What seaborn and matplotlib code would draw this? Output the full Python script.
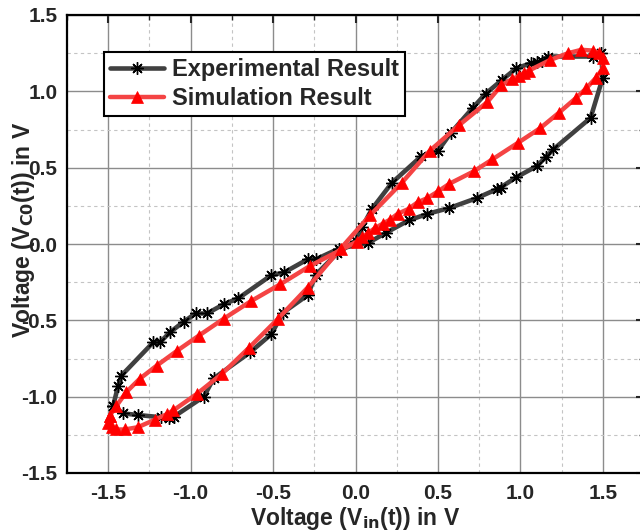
import matplotlib
matplotlib.use("Agg")
import matplotlib.pyplot as plt
import seaborn as sns
import numpy as np
import pandas as pd
from matplotlib.ticker import MultipleLocator

# Experimental result (closed loop, ordered)
exp_x = [-1.47, -1.41, -1.32, -1.18, -1.13, -1.10, -0.92, -0.86, -0.64, -0.51, -0.44,
         -0.29, -0.24, -0.11, 0.00, 0.04, 0.10, 0.22, 0.40, 0.50, 0.58, 0.71, 0.79, 0.89,
         0.975, 1.065, 1.10, 1.13, 1.167, 1.44, 1.49, 1.50, 1.426, 1.20, 1.155, 1.10,
         0.975, 0.88, 0.86, 0.734, 0.57, 0.435, 0.322, 0.182, 0.074, -0.10, -0.24, -0.29,
         -0.432, -0.511, -0.71, -0.80, -0.90, -0.97, -1.043, -1.124, -1.185, -1.226,
         -1.42, -1.44, -1.47]
exp_y = [-1.06, -1.11, -1.12, -1.135, -1.14, -1.13, -1.00, -0.88, -0.71, -0.59, -0.45,
         -0.335, -0.20, -0.06, 0.02, 0.11, 0.23, 0.40, 0.576, 0.61, 0.73, 0.89, 0.985, 1.076,
         1.15, 1.185, 1.19, 1.20, 1.228, 1.228, 1.25, 1.09, 0.826, 0.62, 0.57, 0.51,
         0.437, 0.37, 0.36, 0.30, 0.236, 0.197, 0.154, 0.072, 0.005, -0.03, -0.10, -0.10,
         -0.186, -0.205, -0.355, -0.395, -0.455, -0.455, -0.51, -0.577, -0.643, -0.643,
         -0.862, -0.93, -1.06]

# Simulation result (closed loop, ordered)
sim_x = [-1.49, -1.50, -1.48, -1.45, -1.40, -1.32, -1.215, -1.145, -1.105, -0.96, -0.81,
         -0.646, -0.47, -0.29, -0.09, 0.09, 0.28, 0.45, 0.63, 0.80, 0.885, 0.95, 0.99,
         1.02, 1.05, 1.18, 1.29, 1.37, 1.44, 1.48, 1.50, 1.50, 1.46, 1.40, 1.336, 1.234,
         1.122, 0.986, 0.83, 0.716, 0.57, 0.50, 0.435, 0.378, 0.322, 0.255, 0.21, 0.164,
         0.12, 0.074, 0.04, 0.007, -0.275, -0.455, -0.635, -0.80, -0.95, -1.083, -1.205,
         -1.31, -1.39, -1.45, -1.49]
sim_y = [-1.125, -1.17, -1.20, -1.215, -1.215, -1.20, -1.15, -1.115, -1.09, -0.98, -0.85,
         -0.68, -0.49, -0.285, -0.03, 0.19, 0.40, 0.61, 0.78, 0.93, 1.04, 1.08, 1.10,
         1.12, 1.135, 1.205, 1.25, 1.272, 1.267, 1.25, 1.22, 1.15, 1.09, 1.02, 0.955, 0.86,
         0.76, 0.663, 0.554, 0.475, 0.395, 0.344, 0.30, 0.274, 0.23, 0.197, 0.16, 0.132,
         0.105, 0.07, 0.045, 0.015, -0.143, -0.263, -0.375, -0.49, -0.60, -0.70, -0.796,
         -0.884, -0.97, -1.06, -1.125]

x_ticks = [-1.5, -1.0, -0.5, 0.0, 0.5, 1.0, 1.5]
y_ticks = [-1.5, -1.0, -0.5, 0.0, 0.5, 1.0, 1.5]

sns.set_style("white")
plt.rcParams['font.family'] = ['Liberation Sans', 'DejaVu Sans']
plt.rcParams['font.weight'] = 'bold'
plt.rcParams['mathtext.default'] = 'bf'

fig = plt.figure(figsize=(6.4, 5.32), dpi=100)
ax = fig.add_axes([67/640, 59/532, 577/640, 458/532])

ax.set_xlim(-1.75, 1.75)
ax.set_ylim(-1.5, 1.5)
ax.xaxis.set_major_locator(MultipleLocator(0.5))
ax.xaxis.set_minor_locator(MultipleLocator(0.25))
ax.yaxis.set_major_locator(MultipleLocator(0.5))
ax.yaxis.set_minor_locator(MultipleLocator(0.25))
ax.grid(True, which='major', color='#8c8c8c', linewidth=1.0, linestyle='-')
ax.grid(True, which='minor', color='#c4c4c4', linewidth=0.8, linestyle=(0, (3, 3)))
ax.set_axisbelow(True)

sns.lineplot(x=exp_x, y=exp_y, sort=False, ax=ax, color='#404040', linewidth=3.3,
             marker=(8, 2, 0), markersize=9, markeredgecolor='black',
             markeredgewidth=1.0, markerfacecolor='black', label='Experimental Result',
             estimator=None)
sns.lineplot(x=sim_x, y=sim_y, sort=False, ax=ax, color='#f44444', linewidth=3.2,
             marker='^', markersize=9, markeredgecolor='#ff0000', markeredgewidth=0.5,
             markerfacecolor='#ff0000', label='Simulation Result', estimator=None)

ax.set_xticks(x_ticks)
ax.set_yticks(y_ticks)
ax.set_xticklabels([f"{v:.1f}" for v in x_ticks], fontsize=15, fontweight='bold')
ax.set_yticklabels([f"{v:.1f}" for v in y_ticks], fontsize=15, fontweight='bold')
ax.tick_params(axis='x', which='major', pad=8)
ax.tick_params(axis='y', which='major', pad=7)
ax.tick_params(which='major', direction='in', length=6, width=1.5, top=True, right=True)
ax.tick_params(which='minor', direction='in', length=3.5, width=1.0, top=True, right=True)
for s in ax.spines.values():
    s.set_linewidth(1.6)
    s.set_color('black')

ax.set_xlabel(r"Voltage (V$_{\mathbf{in}}$(t)) in V", fontsize=16.5, fontweight='bold', labelpad=1)
ax.set_ylabel(r"Voltage (V$_{\mathbf{C0}}$(t)) in V", fontsize=16.5, fontweight='bold')
ax.yaxis.set_label_coords((37 - 67) / 577, 0.53)

leg = ax.legend(loc='upper left', bbox_to_anchor=((104 - 67) / 577, (473 - 52) / 458),
                borderaxespad=0, fancybox=False, framealpha=1, edgecolor='black',
                handlelength=2.3, prop={'size': 17, 'weight': 'bold'}, borderpad=0.25,
                labelspacing=0.25, handletextpad=0.35)
leg.get_frame().set_linewidth(1.5)

fig.savefig("out.png", dpi=100)
